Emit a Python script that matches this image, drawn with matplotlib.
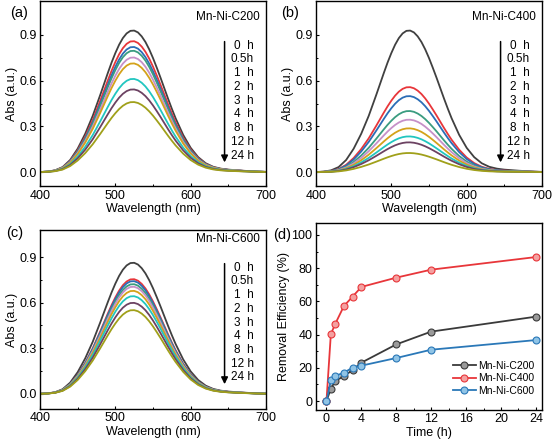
import matplotlib.pyplot as plt
import numpy as np

plt.rcParams['font.family'] = ['Liberation Sans', 'DejaVu Sans']
plt.rcParams['font.size'] = 9

# normalised band shape
wavelength = [400, 410, 420, 430, 440, 450, 460, 470, 480, 485, 490, 495, 500, 505,
              510, 515, 520, 525, 530, 535, 540, 545, 550, 555, 560, 565, 570, 575,
              580, 590, 600, 610, 620, 630, 640, 650, 660, 670, 680, 690, 700]
profile = [0.000, 0.003, 0.012, 0.035, 0.085, 0.165, 0.270, 0.397, 0.545, 0.622,
           0.699, 0.773, 0.840, 0.899, 0.946, 0.979, 0.997, 0.999, 0.986, 0.958,
           0.918, 0.866, 0.805, 0.737, 0.666, 0.592, 0.518, 0.447, 0.380, 0.263,
           0.171, 0.105, 0.062, 0.037, 0.024, 0.017, 0.013, 0.009, 0.006, 0.003, 0.001]

time_labels = ['0  h', '0.5h', '1  h', '2  h', '3  h', '4  h', '8  h', '12 h', '24 h']
peak_c200 = [0.93, 0.86, 0.822, 0.797, 0.753, 0.714, 0.612, 0.543, 0.46]
peak_c400 = [0.93, 0.558, 0.499, 0.401, 0.344, 0.287, 0.234, 0.195, 0.125]
peak_c600 = [0.863, 0.755, 0.742, 0.722, 0.705, 0.678, 0.643, 0.599, 0.551]
curve_colors = ['#404040', '#e8363a', '#2b6db6', '#3a9c80', '#c690c8',
                '#d4a21a', '#22c6c0', '#6c4262', '#a0a01a']

time_h = [0, 0.5, 1, 2, 3, 4, 8, 12, 24]
eff_c200 = [0, 7.4, 12, 15, 18.7, 23.1, 34.1, 41.8, 50.8]
eff_c400 = [0, 40.2, 46.4, 57.2, 62.9, 68.7, 74.3, 79.1, 86.7]
eff_c600 = [0, 12.4, 15.1, 17.1, 20.1, 21.3, 25.9, 30.9, 36.7]

W, H = 555, 444
fig = plt.figure(figsize=(W / 100, H / 100), dpi=100)


def box(left, top, right, bottom):
    return [left / W, 1 - bottom / H, (right - left) / W, (bottom - top) / H]


def style(ax):
    for s in ax.spines.values():
        s.set_linewidth(1.0)
    ax.tick_params(direction='in', length=2.5, width=0.8, labelsize=9, pad=2.5)
    ax.tick_params(which='minor', direction='in', length=1.5, width=0.7)


def spectra(ax, peaks, name, ylim):
    prof = np.array(profile)
    for pk, c in zip(peaks, curve_colors):
        ax.plot(wavelength, prof * pk, color=c, lw=1.3)
    ax.set_xlim(400, 700)
    ax.set_ylim(*ylim)
    ax.set_xticks([400, 500, 600, 700])
    ax.set_xticks([450, 550, 650], minor=True)
    ax.set_yticks([0, 0.3, 0.6, 0.9])
    ax.set_yticks([0.15, 0.45, 0.75], minor=True)
    ax.set_xlabel('Wavelength (nm)', labelpad=1)
    ax.set_ylabel('Abs (a.u.)', labelpad=1)
    style(ax)
    ax.text(692, 1.02, name, ha='right', va='center', fontsize=8.5)
    ax.annotate('', xy=(645, 0.045), xytext=(645, 0.875),
                arrowprops=dict(arrowstyle='-|>', color='black', lw=1.1,
                                mutation_scale=10))
    for i, lab in enumerate(time_labels):
        ax.text(684, 0.83 - i * 0.0903, lab, ha='right', va='center', fontsize=8.5)


ax_a = fig.add_axes(box(40, 1.5, 266, 186.5))
spectra(ax_a, peak_c200, 'Mn-Ni-C200', (-0.095, 1.12))
ax_b = fig.add_axes(box(316, 1.5, 542, 186.5))
spectra(ax_b, peak_c400, 'Mn-Ni-C400', (-0.095, 1.12))
ax_c = fig.add_axes(box(40, 230, 266, 409))
spectra(ax_c, peak_c600, 'Mn-Ni-C600', (-0.10, 1.078))

ax_d = fig.add_axes(box(316, 223, 542, 410))
series = [(eff_c200, 'Mn-Ni-C200', '#3a3a3a', '#9a9a9a'),
          (eff_c400, 'Mn-Ni-C400', '#e8363a', '#f4a0a0'),
          (eff_c600, 'Mn-Ni-C600', '#2a78b8', '#90c4e6')]
for vals, name, c, fc in series:
    ax_d.plot(time_h, vals, color=c, lw=1.3, marker='o', ms=5,
              mfc=fc, mec=c, mew=0.8, label=name)
ax_d.set_xlim(-1.2, 24.7)
ax_d.set_ylim(-5.4, 107.2)
ax_d.set_xticks(range(0, 25, 4))
ax_d.set_xticks(range(2, 25, 4), minor=True)
ax_d.set_yticks(range(0, 101, 20))
ax_d.set_yticks(range(10, 101, 20), minor=True)
ax_d.set_xlabel('Time (h)', labelpad=1)
ax_d.set_ylabel('Removal Efficiency (%)', labelpad=1)
style(ax_d)
ax_d.legend(loc='lower right', bbox_to_anchor=(0.965, 0.075), frameon=False,
            fontsize=7.5, handlelength=2.2, handletextpad=0.2, labelspacing=0.25,
            borderpad=0, borderaxespad=0)

for lab, x, y in [('(a)', 10, 13), ('(b)', 281, 13), ('(c)', 6, 233), ('(d)', 273, 235)]:
    fig.text(x / W, 1 - y / H, lab, fontsize=10.5, ha='left', va='center')

fig.savefig('out.png', dpi=100)
